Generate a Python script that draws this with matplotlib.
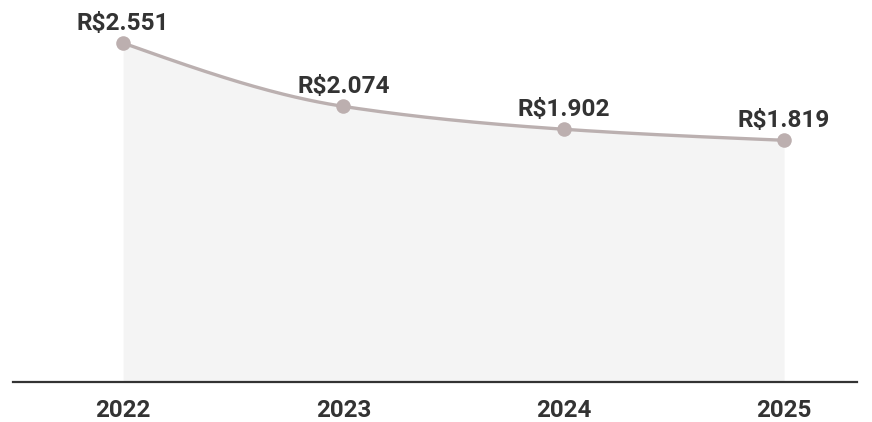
import numpy as np
import matplotlib
matplotlib.use("Agg")
import matplotlib.pyplot as plt

years = ["2022", "2023", "2024", "2025"]
values = [2551, 2074, 1902, 1819]
labels = ["R$2.551", "R$2.074", "R$1.902", "R$1.819"]

plt.rcParams['font.family'] = ['Roboto', 'DejaVu Sans']

W, H = 872, 422
fig = plt.figure(figsize=(W / 100, H / 100), dpi=100)
ax = fig.add_axes([13 / W, (H - 382) / H, 844 / W, 382 / H])

x = np.arange(len(values), dtype=float)
y = np.array(values, dtype=float)

# monotone cubic (Fritsch-Carlson) interpolation for the smooth line
def monotone(xs, ys, n=60):
    h = np.diff(xs)
    d = np.diff(ys) / h
    m = np.zeros_like(ys)
    for i in range(1, len(ys) - 1):
        if d[i - 1] * d[i] <= 0:
            m[i] = 0
        else:
            w1 = 2 * h[i] + h[i - 1]
            w2 = h[i] + 2 * h[i - 1]
            m[i] = (w1 + w2) / (w1 / d[i - 1] + w2 / d[i])
    m[0] = (3 * d[0] - m[1]) / 2
    m[-1] = (3 * d[-1] - m[-2]) / 2
    xx, yy = [], []
    for i in range(len(xs) - 1):
        t = np.linspace(0, 1, n)
        h00 = 2 * t**3 - 3 * t**2 + 1
        h10 = t**3 - 2 * t**2 + t
        h01 = -2 * t**3 + 3 * t**2
        h11 = t**3 - t**2
        seg = h00 * ys[i] + h10 * h[i] * m[i] + h01 * ys[i + 1] + h11 * h[i] * m[i + 1]
        xx.append(xs[i] + t * h[i])
        yy.append(seg)
    return np.concatenate(xx), np.concatenate(yy)

xs, ys = monotone(x, y)
ax.fill_between(xs, 0, ys, color="#f4f4f4", lw=0, zorder=1)
ax.plot(xs, ys, color="#bbb0b0", lw=2.4, zorder=2, solid_capstyle="round")
ax.scatter(x, y, s=110, color="#bcafaf", zorder=3, linewidths=0)

for xi, yi, lab in zip(x, y, labels):
    ax.annotate(lab, (xi, yi), xytext=(0, 9.5), textcoords="offset points",
                ha="center", va="baseline", fontsize=17.6, fontweight="bold",
                color="#333333", annotation_clip=False)

ax.set_xlim(-0.4995, 3.331)
ax.set_ylim(0, 2551 * 382 / 339)
for s in ["top", "right", "left"]:
    ax.spines[s].set_visible(False)
ax.spines["bottom"].set_color("#333333")
ax.spines["bottom"].set_linewidth(1.6)
ax.set_yticks([])
ax.set_xticks(x)
ax.set_xticklabels(years, fontsize=17.4, fontweight="bold", color="#333333")
ax.tick_params(axis="x", length=0, pad=12)

fig.savefig("out.png", dpi=100)
